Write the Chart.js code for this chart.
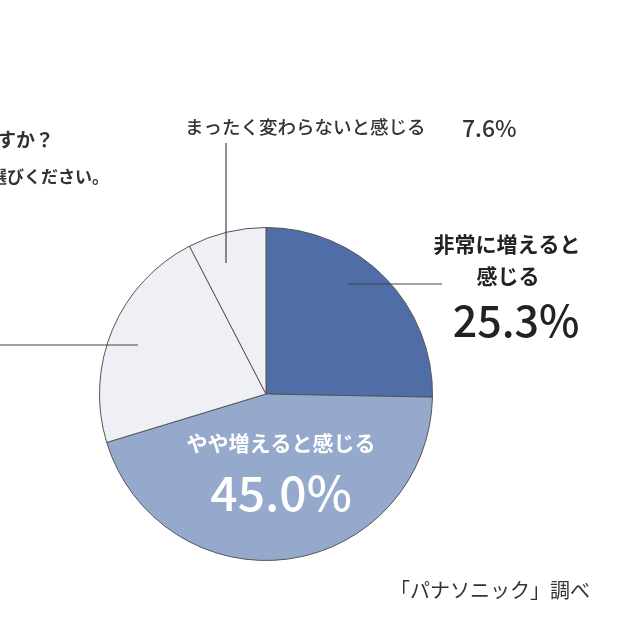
<!DOCTYPE html>
<html><head><meta charset="utf-8">
<script src="https://cdn.jsdelivr.net/npm/chart.js@4/dist/chart.umd.min.js"></script>
<style>html,body{margin:0;padding:0;background:#fff;}canvas{display:block;}</style>
</head><body>
<canvas id="c" width="640" height="640"></canvas>
<script>
const categories = ['非常に増えると感じる', 'やや増えると感じる', 'あまり増えないと感じる', 'まったく変わらないと感じる'];
const values = [25.3, 45.0, 22.1, 7.6];
const colors = ['#4F6EA7', '#94A9CB', '#EEF0F6', '#EEF0F6'];
const FONT = '"Noto Sans CJK JP", "Noto Sans", sans-serif';

const annot = {
  id: 'annot',
  afterDraw(chart) {
    const ctx = chart.ctx;
    const arc = chart.getDatasetMeta(0).data[0];
    const cx = arc.x, cy = arc.y;
    ctx.save();
    // leader lines
    ctx.strokeStyle = '#444';
    ctx.lineWidth = 1.2;
    ctx.beginPath();
    ctx.moveTo(cx + 82, cy - 110); ctx.lineTo(cx + 176, cy - 110);
    ctx.moveTo(cx - 40, cy - 131); ctx.lineTo(cx - 40, cy - 251);
    ctx.moveTo(cx - 128, cy - 49); ctx.lineTo(-5, cy - 49);
    ctx.stroke();

    ctx.textBaseline = 'middle';
    // title fragments (cropped at left)
    ctx.fillStyle = '#333';
    ctx.textAlign = 'left';
    ctx.font = '700 19px ' + FONT;
    ctx.fillText('すか？', -3, 140);
    ctx.font = '700 17px ' + FONT;
    ctx.fillText('選びください。', -10, 177);

    // 7.6% label
    ctx.fillStyle = '#333';
    ctx.font = '500 18.5px ' + FONT;
    ctx.fillText(categories[3], 185, 127);
    ctx.font = '500 23px ' + FONT;
    ctx.fillText(values[3].toFixed(1) + '%', 462, 128);

    // 25.3% label
    ctx.fillStyle = '#222';
    ctx.textAlign = 'center';
    ctx.font = '700 21px ' + FONT;
    ctx.fillText('非常に増えると', 507, 244);
    ctx.fillText('感じる', 508, 276);
    ctx.font = '500 43px ' + FONT;
    ctx.fillText(values[0].toFixed(1) + '%', 516, 321);

    // 45.0% label
    ctx.fillStyle = '#fff';
    ctx.font = '700 21px ' + FONT;
    ctx.fillText('やや増えると感じる', 281, 443);
    ctx.font = '500 48px ' + FONT;
    ctx.fillText(values[1].toFixed(1) + '%', 281, 493);

    // source
    ctx.fillStyle = '#333';
    ctx.textAlign = 'left';
    ctx.font = '400 20px ' + FONT;
    ctx.fillText('「パナソニック」調べ', 390, 590);
    ctx.restore();
  }
};

new Chart(document.getElementById('c'), {
  type: 'pie',
  data: {
    labels: categories,
    datasets: [{
      data: values,
      backgroundColor: colors,
      borderColor: '#555',
      borderWidth: 1
    }]
  },
  options: {
    responsive: false,
    animation: false,
    layout: { padding: { left: 99, right: 207, top: 227, bottom: 79 } },
    plugins: { legend: { display: false }, tooltip: { enabled: false } }
  },
  plugins: [annot]
});
</script>
</body></html>
